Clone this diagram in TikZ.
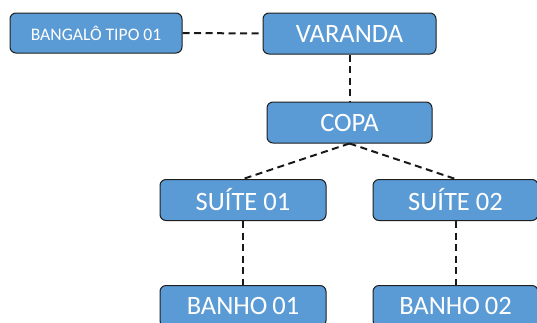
\documentclass[tikz,border=0pt]{standalone}
\usepackage{fontspec}
\setmainfont{Carlito}
\definecolor{boxfill}{HTML}{5B9BD5}
\definecolor{boxline}{HTML}{1E1E1E}
\tikzset{
  room/.style={draw=boxline, fill=boxfill, line width=1pt, rounded corners=6pt,
    text=white, inner sep=0pt, minimum height=41pt, font=\fontsize{26.5}{26.5}\selectfont},
  link/.style={line width=2pt, dash pattern=on 7pt off 4.5pt, draw=black!90}
}
\begin{document}
\begin{tikzpicture}[x=1pt,y=-1pt]
\useasboundingbox (0,0) rectangle (537,322);
\clip (0,0) rectangle (537,322);
\node[room, minimum width=172pt, minimum height=40pt, font=\fontsize{17.6}{17.6}\selectfont] (bang) at (96,33) {BANGALÔ TIPO 01};
\node[room, minimum width=173pt] (var) at (349.5,33.5) {VARANDA};
\node[room, minimum width=165pt] (copa) at (349.5,122.5) {COPA};
\node[room, minimum width=166pt] (s1) at (243,200) {SUÍTE 01};
\node[room, minimum width=165pt] (s2) at (455.5,200) {SUÍTE 02};
\node[room, minimum width=166pt] (b1) at (243,306) {BANHO\kern-1pt\ 01};
\node[room, minimum width=165pt] (b2) at (455.5,306) {BANHO\kern-1pt\ 02};
\draw[link] (bang.east) -- (var.west);
\draw[link] (var.south) -- (copa.north);
\draw[link] (copa.south) -- (s1.north);
\draw[link] (copa.south) -- (s2.north);
\draw[link] (s1.south) -- (b1.north);
\draw[link] (s2.south) -- (b2.north);
\end{tikzpicture}
\end{document}
